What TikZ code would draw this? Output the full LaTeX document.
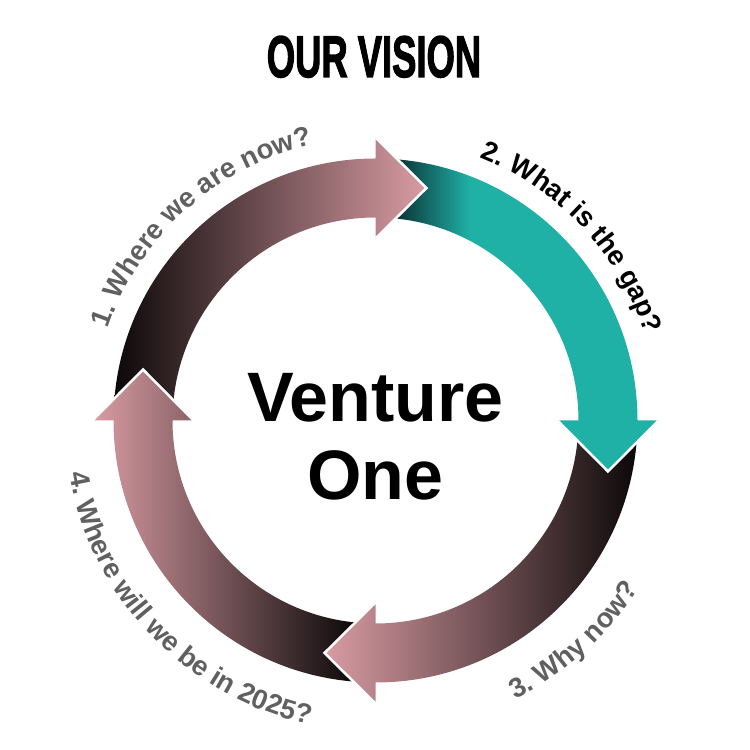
\documentclass[tikz,border=0pt]{standalone}
\usepackage{fontspec}
\setmainfont{Liberation Sans}
\newfontfamily\titlefont{Liberation Sans}[BoldFeatures={FakeBold=2.5}]
\usetikzlibrary{decorations.text}

\definecolor{pinkend}{HTML}{D99CA3}
\definecolor{darkend}{HTML}{0C0809}
\definecolor{tealmain}{HTML}{1FB0A6}
\definecolor{tealdark}{HTML}{0A3234}
\definecolor{labelgray}{HTML}{606060}
\pgfdeclarehorizontalshading{tealfade}{100bp}{color(0bp)=(tealdark); color(25bp)=(tealdark); color(39bp)=(tealmain); color(100bp)=(tealmain)}
\newcommand\labelfont{\bfseries\fontsize{27.5}{30}\selectfont}

\begin{document}
\begin{tikzpicture}[x=1pt, y=1pt,
        arrowone/.style={left color=darkend, right color=pinkend},
        arrowtwo/.style={shading=tealfade},
        arrowthree/.style={left color=pinkend, right color=darkend},
        arrowfour/.style={left color=pinkend, right color=darkend},
        headedge/.style={draw=white, line width=2.5pt, line join=miter}]
        \useasboundingbox (0,0) rectangle (750,750);
        \node[anchor=base, font=\titlefont\bfseries\fontsize{58.7}{60}\selectfont] (vision) at (374,673) {\scalebox{0.62}[1]{OUR VISION}};

        \begin{scope}[shift={(375.5,329.5)}]
        % ring of four arrows, tail notch = previous head
        \foreach \b/\s in {90/arrowone, 0/arrowtwo, -90/arrowthree, 180/arrowfour}
            \path[\s] ({\b+85.15}:262pt) arc[start angle=\b+85.15, end angle=\b, radius=262pt]
                -- (\b:283pt) -- ({\b-12.37}:238pt) -- (\b:182pt) -- (\b:203pt)
                arc[start angle=\b, end angle=\b+84.29, radius=203pt] -- ({\b+77.63}:238pt) -- cycle;
        \foreach \b in {90,0,-90,180}
            \draw[headedge] (\b:283pt) -- ({\b-12.37}:238pt) -- (\b:182pt);

        \node[anchor=base, font=\bfseries\fontsize{70}{80}\selectfont] (venture) at (0,-1.5) {Venture};
        \node[anchor=base, font=\bfseries\fontsize{70}{80}\selectfont] (one) at (0,-79.5) {One};

        \path[decorate, decoration={text along path, text align=center, text color=labelgray,
            text={|\labelfont|1. Where we are now?}}] (176:283pt) arc[start angle=176, end angle=88, radius=283pt];
        \path[decorate, decoration={text along path, text align=center, text color=black,
            text={|\labelfont|2. What is the gap?}}] (87:283pt) arc[start angle=87, end angle=-1, radius=283pt];
        \path[decorate, decoration={text along path, text align=center, text color=labelgray,
            text={|\labelfont|3. Why now?}}] (-90:312pt) arc[start angle=-90, end angle=-6, radius=312pt];
        \path[decorate, decoration={text along path, text align=center, text color=labelgray,
            text={|\labelfont|4. Where will we be in 2025?}}] (178:311pt) arc[start angle=178, end angle=269.6, radius=311pt];
        \end{scope}
    \end{tikzpicture}
\end{document}
